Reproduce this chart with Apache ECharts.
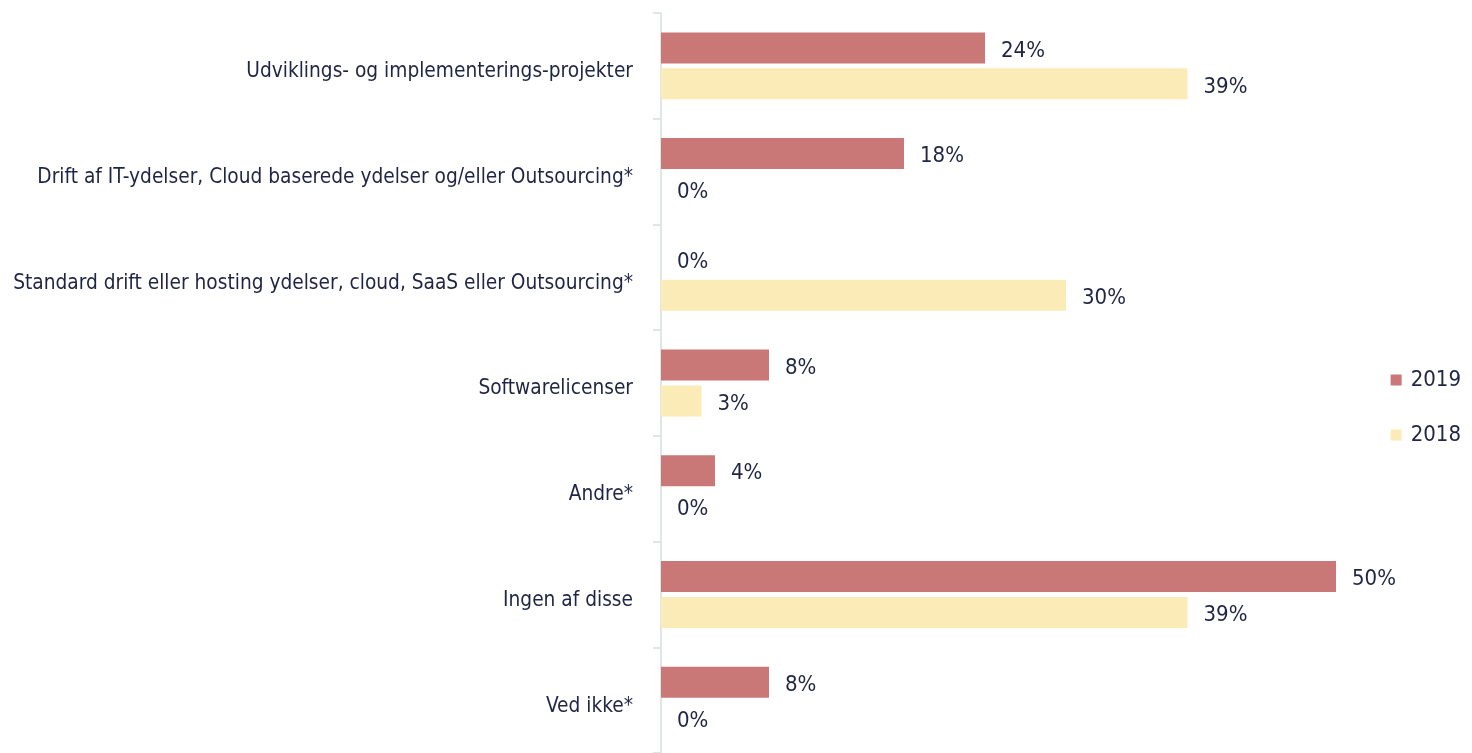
<!DOCTYPE html>
<html>
<head>
<meta charset="utf-8">
<script src="https://cdn.jsdelivr.net/npm/echarts@6/dist/echarts.min.js"></script>
<style>
  html, body { margin: 0; padding: 0; background: #fff; }
  #myChart { width: 1472px; height: 753px; }
</style>
</head>
<body>
<div id="myChart"></div>
<script>
  // kategorier (oppefra og ned)
  const categories = [
    'Udviklings- og implementerings-projekter',
    'Drift af IT-ydelser, Cloud baserede ydelser og/eller Outsourcing*',
    'Standard drift eller hosting ydelser, cloud, SaaS eller Outsourcing*',
    'Softwarelicenser',
    'Andre*',
    'Ingen af disse',
    'Ved ikke*'
  ]
  const values2019 = [24, 18, 0, 8, 4, 50, 8]
  const values2018 = [39, 0, 30, 3, 0, 39, 0]
  const seriesNames = ['2019', '2018']

  const font = '"Liberation Sans Narrow", "DejaVu Sans Condensed", sans-serif'
  const textColor = '#1f2544'

  const valueLabel = {
    show: true,
    position: 'right',
    distance: 16,
    offset: [0, 3],
    formatter: '{c}%',
    color: textColor,
    fontSize: 22,
    fontFamily: font
  }

  const myChart = echarts.init(document.getElementById('myChart'))
  const option = {
    animation: false,
    legend: {
      orient: 'vertical',
      right: 6,
      top: 364,
      itemWidth: 11,
      itemHeight: 11,
      itemGap: 33,
      icon: 'rect',
      textStyle: { color: textColor, fontSize: 22, fontFamily: font, padding: [0, 0, 0, 4] },
      data: seriesNames
    },
    grid: {
      left: 661,
      right: 136,
      top: 13,
      bottom: -6,
      containLabel: false
    },
    xAxis: {
      type: 'value',
      min: 0,
      max: 50,
      show: false
    },
    yAxis: {
      type: 'category',
      inverse: true,
      data: categories,
      axisLine: { show: true, lineStyle: { color: '#dde8e4', width: 2 } },
      axisTick: { show: true, length: 8, lineStyle: { color: '#dde8e4', width: 2 } },
      axisLabel: {
        margin: 28,
        formatter: '{c|{value}}',
        rich: {
          c: {
            padding: [12, 0, 0, 0],
            color: textColor,
            fontSize: 20.7,
            fontFamily: font
          }
        }
      }
    },
    series: [
      {
        name: seriesNames[0],
        type: 'bar',
        data: values2019,
        barWidth: 31,
        barGap: '16%',
        itemStyle: { color: '#c97777' },
        label: valueLabel
      },
      {
        name: seriesNames[1],
        type: 'bar',
        data: values2018,
        barWidth: 31,
        barGap: '16%',
        itemStyle: { color: '#fbebb7' },
        label: valueLabel
      }
    ]
  }
  myChart.setOption(option)
</script>
</body>
</html>
